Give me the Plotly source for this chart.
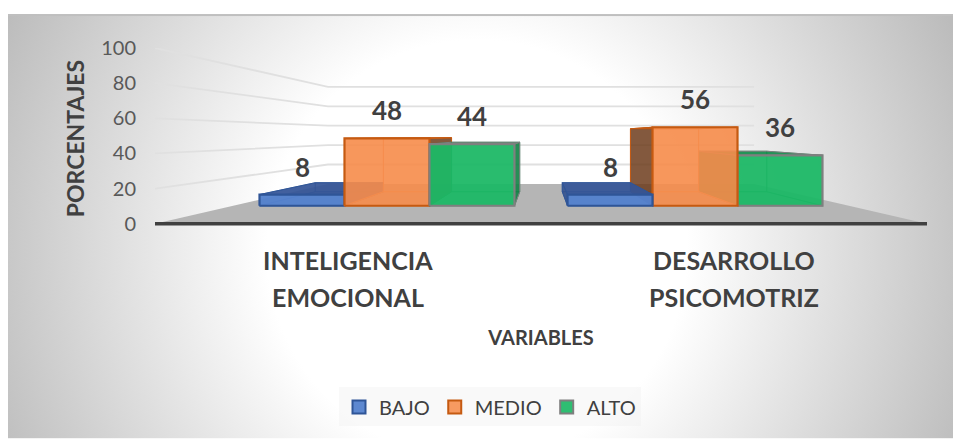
import base64
import plotly.graph_objects as go

# Chart values
CATEGORIES = [["INTELIGENCIA", "EMOCIONAL"], ["DESARROLLO", "PSICOMOTRIZ"]]
SERIES_NAMES = ["BAJO", "MEDIO", "ALTO"]
BAJO = [8, 8]
MEDIO = [48, 56]
ALTO = [44, 36]
Y_TICKS = [0, 20, 40, 60, 80, 100]

# Face colours per series: front, back, top, side, edge, inner edge
STYLES = {
    "BAJO": ("rgba(84,130,205,0.95)", "rgba(70,110,180,0.35)", "rgba(52,84,150,0.9)", "rgba(50,80,140,0.85)",
             "#2F5597", "rgba(47,85,151,0.6)"),
    "MEDIO": ("rgba(246,140,75,0.88)", "rgba(246,140,75,0.25)", "rgba(190,90,30,0.85)", "rgba(100,55,25,0.8)",
              "#C55A11", "rgba(240,140,80,0.7)"),
    "ALTO": ("rgba(28,184,102,0.92)", "rgba(22,170,90,0.3)", "rgba(20,140,75,0.9)", "rgba(18,130,70,0.88)",
             "#7F7F7F", "rgba(14,130,70,0.6)"),
}

# Fake 3D: depth scales everything towards a vanishing point given in axis units
VANISH_X = 0.5
VANISH_Y = 50.6
FLOOR_FRONT, FLOOR_BACK = 1.0, 0.552
BAR_FRONT, BAR_BACK = 0.798, 0.64
BAR_WIDTH = 0.2759
WIDTH, HEIGHT = 953, 439
# y axis runs a little below zero so the thick floor edge is not clipped
Y_RANGE = [-3, 100]
PX_PER_UNIT = 1.76
MARGIN = dict(l=155, r=26, t=48, b=215 + 3 * PX_PER_UNIT * -1, pad=0)
FONT = "Lato, Carlito, sans-serif"
TEXT_COLOR = "#404040"

plot_w = WIDTH - MARGIN["l"] - MARGIN["r"]
plot_h = HEIGHT - MARGIN["t"] - MARGIN["b"]


def paper_x(px):
    return (px - MARGIN["l"]) / plot_w


def paper_y(px):
    return (HEIGHT - MARGIN["b"] - px) / plot_h


def project(x, value, depth):
    return VANISH_X + depth * (x - VANISH_X), VANISH_Y + depth * (value - VANISH_Y)


def polygon(corners, fill, edge, width=1.5):
    xs, ys = zip(*[project(*c) for c in corners])
    return go.Scatter(
        x=list(xs) + [xs[0]], y=list(ys) + [ys[0]], mode="lines", fill="toself",
        fillcolor=fill, line=dict(color=edge, width=width),
        showlegend=False, hoverinfo="skip",
    )


def bar_faces(x0, x1, value, style):
    front, back, top, side, edge, inner = style
    f, b = BAR_FRONT, BAR_BACK
    faces = [
        polygon([(x0, 0, b), (x1, 0, b), (x1, value, b), (x0, value, b)], back, inner, 1),
        polygon([(x0, 0, f), (x1, 0, f), (x1, 0, b), (x0, 0, b)], back, inner, 1),
    ]
    outer = max((x0, x1), key=lambda x: abs(x - VANISH_X))
    for x in (x0, x1):
        # the outer side stays hidden behind the front, only the inner one shows dark
        if x == outer:
            faces.append(polygon([(x, 0, f), (x, 0, b), (x, value, b), (x, value, f)], back, inner, 1))
        else:
            faces.append(polygon([(x, 0, f), (x, 0, b), (x, value, b), (x, value, f)], side, edge, 1))
    faces.append(polygon([(x0, value, f), (x1, value, f), (x1, value, b), (x0, value, b)], top, edge, 1))
    faces.append(polygon([(x0, 0, f), (x1, 0, f), (x1, value, f), (x0, value, f)], front, edge, 2.2))
    return faces


background_svg = """<svg xmlns="http://www.w3.org/2000/svg" width="945" height="425" viewBox="0 0 945 425" preserveAspectRatio="none">
<defs><radialGradient id="g" gradientUnits="userSpaceOnUse" cx="469" cy="236" r="525">
<stop offset="0.4" stop-color="#ffffff"/><stop offset="1" stop-color="#bcbcbc"/></radialGradient></defs>
<rect width="945" height="425" fill="url(#g)"/>
<rect width="945" height="2" fill="#bfbfbf"/></svg>"""
background = "data:image/svg+xml;base64," + base64.b64encode(background_svg.encode()).decode()

fig = go.Figure()

# Floor
fig.add_trace(polygon(
    [(-0.5, 0, FLOOR_FRONT), (1.5, 0, FLOOR_FRONT), (1.5, 0, FLOOR_BACK), (-0.5, 0, FLOOR_BACK)],
    "#b5b5b5", "#b5b5b5", 0,
))

# Gridlines on the left and back walls
for tick in Y_TICKS[1:]:
    pts = [project(-0.5, tick, FLOOR_FRONT), project(-0.5, tick, FLOOR_BACK), project(1.5, tick, FLOOR_BACK)]
    fig.add_trace(go.Scatter(
        x=[p[0] for p in pts], y=[p[1] for p in pts], mode="lines",
        line=dict(color="#e0e0e0", width=1.8), showlegend=False, hoverinfo="skip",
    ))

# Front edge of the floor
fig.add_trace(go.Scatter(
    x=[-0.5, 1.5], y=[0, 0], mode="lines", cliponaxis=False,
    line=dict(color="#404040", width=3.5), showlegend=False, hoverinfo="skip",
))

# Bars, painted from the outside towards the vanishing point
values = dict(zip(SERIES_NAMES, [BAJO, MEDIO, ALTO]))
offsets = dict(zip(SERIES_NAMES, [-BAR_WIDTH, 0, BAR_WIDTH]))
for i in range(len(CATEGORIES)):
    order = SERIES_NAMES if i == 0 else SERIES_NAMES[::-1]
    for name in order:
        center = i + offsets[name]
        for face in bar_faces(center - BAR_WIDTH / 2, center + BAR_WIDTH / 2, values[name][i], STYLES[name]):
            fig.add_trace(face)

annotations = []
for name in SERIES_NAMES:
    for i, value in enumerate(values[name]):
        x, y = project(i + offsets[name], value, BAR_FRONT)
        annotations.append(dict(
            x=x, y=y, text=f"<b>{value}</b>", showarrow=False, yshift=28,
            font=dict(family=FONT, size=26, color=TEXT_COLOR),
        ))

# Category labels, two lines each with the wide spacing of the original
for i, lines in enumerate(CATEGORIES):
    for line, shift in zip(lines, (-36, -73)):
        annotations.append(dict(
            x=i, y=0, text=f"<b>{line}</b>", showarrow=False, yshift=shift,
            font=dict(family=FONT, size=25, color=TEXT_COLOR),
        ))

# Empty traces that only feed the legend
for name in SERIES_NAMES:
    fig.add_trace(go.Scatter(
        x=[None], y=[None], mode="markers", name=name, hoverinfo="skip",
        marker=dict(symbol="square", size=13, color=STYLES[name][0],
                    line=dict(color=STYLES[name][4], width=2)),
    ))

fig.update_layout(
    width=WIDTH, height=HEIGHT, margin=MARGIN,
    paper_bgcolor="white", plot_bgcolor="rgba(0,0,0,0)",
    font=dict(family=FONT, color=TEXT_COLOR),
    annotations=annotations,
    images=[dict(
        source=background, xref="paper", yref="paper", layer="below",
        x=paper_x(8), y=paper_y(14), sizex=945 / plot_w, sizey=425 / plot_h,
        xanchor="left", yanchor="top", sizing="stretch",
    )],
    legend=dict(
        orientation="h", x=paper_x(339), y=paper_y(388),
        xanchor="left", yanchor="top", bgcolor="rgba(240,240,240,0.4)",
        font=dict(family=FONT, size=20, color=TEXT_COLOR),
    ),
    xaxis=dict(
        range=[-0.5, 1.5], showgrid=False, zeroline=False, tickvals=[], showline=False,
        title=dict(text="<b>VARIABLES</b>", font=dict(family=FONT, size=20, color=TEXT_COLOR), standoff=101),
    ),
    yaxis=dict(
        range=Y_RANGE, tickvals=Y_TICKS, showgrid=False, zeroline=False, showline=False,
        ticks="", ticklabelstandoff=18, tickfont=dict(family=FONT, size=20, color="#595959"),
        title=dict(text="<b>PORCENTAJES</b>", font=dict(family=FONT, size=23, color=TEXT_COLOR), standoff=10),
    ),
)

fig.write_html("out.html", config=dict(displayModeBar=False), post_script="document.body.style.margin='0';")
